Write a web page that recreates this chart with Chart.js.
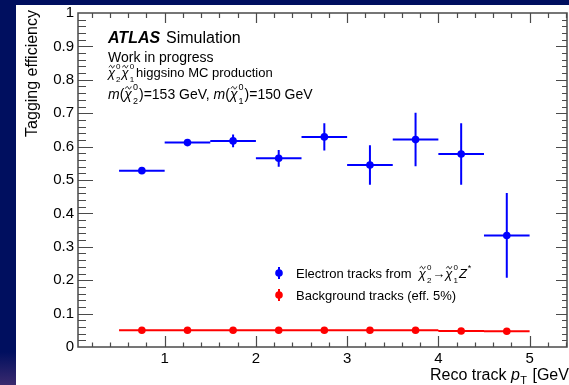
<!DOCTYPE html>
<html>
<head>
<meta charset="utf-8">
<script src="https://cdn.jsdelivr.net/npm/chart.js@4.4.0/dist/chart.umd.min.js"></script>
<style>
  html, body { margin: 0; padding: 0; background: #000f5f; overflow: hidden; }
  #wrap { position: absolute; left: 0; top: 0; width: 571px; height: 385px; }
</style>
</head>
<body>
<div id="wrap"><canvas id="effChart" width="571" height="385"></canvas></div>
<script>
// Bins of reco track pT [GeV]
const binLow = [0.5, 1.0, 1.5, 2.0, 2.5, 3.0, 3.5, 4.0, 4.5];
const binHigh = [1.0, 1.5, 2.0, 2.5, 3.0, 3.5, 4.0, 4.5, 5.0];
const binCenter = [0.75, 1.25, 1.75, 2.25, 2.75, 3.25, 3.75, 4.25, 4.75];

// Electron tracks from chi2 -> chi1 Z*
const electronEff = [0.528, 0.612, 0.617, 0.565, 0.629, 0.545, 0.621, 0.578, 0.334];
const electronErr = [0.005, 0.008, 0.019, 0.025, 0.041, 0.059, 0.080, 0.092, 0.127];

// Background tracks
const bkgEff = [0.050, 0.050, 0.050, 0.050, 0.050, 0.050, 0.050, 0.048, 0.047];
const bkgErr = [0.001, 0.001, 0.001, 0.001, 0.001, 0.001, 0.001, 0.001, 0.001];

const xTicks = [1, 2, 3, 4, 5];
const xTickLabels = ['1', '2', '3', '4', '5'];
const yTicks = [0, 0.1, 0.2, 0.3, 0.4, 0.5, 0.6, 0.7, 0.8, 0.9, 1];
const yTickLabels = ['0', '0.1', '0.2', '0.3', '0.4', '0.5', '0.6', '0.7', '0.8', '0.9', '1'];

const FONT = '"Liberation Sans", Arial, Helvetica, sans-serif';
const BLUE = '#0000ff';
const RED = '#ff0000';

// chi-tilde with stacked super/subscript, returns new x
function drawChi(ctx, x, y, size, sup, sub) {
    ctx.font = `italic ${size}px ${FONT}`;
    const w = ctx.measureText('χ').width;
    ctx.fillText('χ', x, y);
    // tilde
    const tx = x + w * 0.15, ty = y - size * 0.82, tw = w * 0.75;
    ctx.save();
    ctx.lineWidth = 0.9;
    ctx.strokeStyle = ctx.fillStyle;
    ctx.beginPath();
    ctx.moveTo(tx, ty + 1);
    ctx.bezierCurveTo(tx + tw * 0.25, ty - 2, tx + tw * 0.45, ty - 1, tx + tw * 0.5, ty + 0.5);
    ctx.bezierCurveTo(tx + tw * 0.6, ty + 2, tx + tw * 0.8, ty + 2, tx + tw, ty - 1);
    ctx.stroke();
    ctx.restore();
    ctx.font = `${Math.round(size * 0.65)}px ${FONT}`;
    const sw = Math.max(ctx.measureText(sup).width, ctx.measureText(sub).width);
    ctx.fillText(sup, x + w + 1, y - size * 0.62);
    ctx.fillText(sub, x + w + 1, y + size * 0.38);
    return x + w + sw + 2;
}

function drawText(ctx, x, y, text, font) {
    ctx.font = font;
    ctx.fillText(text, x, y);
    return x + ctx.measureText(text).width;
}

const decorPlugin = {
    id: 'decor',
    beforeDraw(chart) {
        const ctx = chart.ctx;
        ctx.save();
        ctx.fillStyle = '#ffffff';
        ctx.fillRect(16, 5, chart.width - 16, chart.height - 5);
        ctx.restore();
    },
    beforeDatasetsDraw(chart) {
        const ctx = chart.ctx;
        const xs = chart.scales.x, ys = chart.scales.y;
        ctx.save();
        ctx.lineWidth = 2;
        const bars = (eff, err, color) => {
            ctx.strokeStyle = color;
            ctx.beginPath();
            for (let i = 0; i < eff.length; i++) {
                const yp = ys.getPixelForValue(eff[i]);
                ctx.moveTo(xs.getPixelForValue(binLow[i]), yp);
                ctx.lineTo(xs.getPixelForValue(binHigh[i]), yp);
                const xp = xs.getPixelForValue(binCenter[i]);
                ctx.moveTo(xp, ys.getPixelForValue(eff[i] + err[i]));
                ctx.lineTo(xp, ys.getPixelForValue(eff[i] - err[i]));
            }
            ctx.stroke();
        };
        bars(electronEff, electronErr, BLUE);
        bars(bkgEff, bkgErr, RED);
        ctx.restore();
    },
    afterDraw(chart) {
        const ctx = chart.ctx;
        const a = chart.chartArea;
        const xs = chart.scales.x, ys = chart.scales.y;
        ctx.save();

        // frame
        ctx.strokeStyle = '#4a4a4a';
        ctx.lineWidth = 1.5;
        ctx.strokeRect(a.left, a.top, a.right - a.left, a.bottom - a.top);

        // inward ticks
        ctx.lineWidth = 1.2;
        ctx.beginPath();
        for (let k = 1; k * 0.2 < xs.max; k++) {
            const v = k * 0.2;
            if (v < xs.min) continue;
            const major = k % 5 === 0;
            const px = Math.round(xs.getPixelForValue(v)) + 0.5;
            ctx.moveTo(px, a.bottom);
            ctx.lineTo(px, a.bottom - (major ? 11 : 4.5));
            ctx.moveTo(px, a.top);
            ctx.lineTo(px, a.top + (major ? 10 : 5));
        }
        for (let k = 1; k < 50; k++) {
            const v = k * 0.02;
            const major = k % 5 === 0;
            const py = Math.round(ys.getPixelForValue(v)) + 0.5;
            ctx.moveTo(a.left, py);
            ctx.lineTo(a.left + (major ? 15 : 8), py);
            ctx.moveTo(a.right, py);
            ctx.lineTo(a.right - (major ? 11 : 5), py);
        }
        ctx.stroke();

        ctx.fillStyle = '#000';
        ctx.textAlign = 'left';
        ctx.textBaseline = 'alphabetic';

        // axis titles
        ctx.save();
        ctx.translate(37, 10);
        ctx.rotate(-Math.PI / 2);
        ctx.textAlign = 'right';
        ctx.font = `16px ${FONT}`;
        ctx.fillText('Tagging efficiency', 0, 0);
        ctx.restore();

        let x = drawText(ctx, 430, 380, 'Reco track ', `16px ${FONT}`);
        x = drawText(ctx, x, 380, 'p', `italic 16px ${FONT}`);
        x = drawText(ctx, x + 0.5, 384, 'T', `11px ${FONT}`);
        drawText(ctx, x + 1, 380, ' [GeV]', `16px ${FONT}`);

        // labels
        drawText(ctx, 108, 43, 'ATLAS', `bold italic 16px ${FONT}`);
        drawText(ctx, 166, 43, 'Simulation', `16px ${FONT}`);
        drawText(ctx, 108, 62, 'Work in progress', `14px ${FONT}`);

        x = drawChi(ctx, 108, 77, 13, '0', '2');
        x = drawChi(ctx, x, 77, 13, '0', '1');
        drawText(ctx, x + 1, 77, 'higgsino MC production', `13px ${FONT}`);

        x = drawText(ctx, 108, 99, 'm', `italic 14px ${FONT}`);
        x = drawText(ctx, x, 99, '(', `14px ${FONT}`);
        x = drawChi(ctx, x, 99, 14, '0', '2');
        x = drawText(ctx, x, 99, ')=153 GeV, ', `14px ${FONT}`);
        x = drawText(ctx, x, 99, 'm', `italic 14px ${FONT}`);
        x = drawText(ctx, x, 99, '(', `14px ${FONT}`);
        x = drawChi(ctx, x, 99, 14, '0', '1');
        drawText(ctx, x, 99, ')=150 GeV', `14px ${FONT}`);

        // legend
        const legendMark = (cx, cy, color) => {
            ctx.fillStyle = color;
            ctx.strokeStyle = color;
            ctx.lineWidth = 2;
            ctx.beginPath();
            ctx.moveTo(cx, cy - 6);
            ctx.lineTo(cx, cy + 6);
            ctx.stroke();
            ctx.beginPath();
            ctx.arc(cx, cy, 3.8, 0, Math.PI * 2);
            ctx.fill();
        };
        legendMark(279, 273, BLUE);
        legendMark(279, 295, RED);
        ctx.fillStyle = '#000';
        x = drawText(ctx, 296, 278, 'Electron tracks from  ', `13px ${FONT}`);
        x = drawChi(ctx, x, 278, 13, '0', '2');
        x = drawText(ctx, x, 278, '→', `13px ${FONT}`);
        x = drawChi(ctx, x, 278, 13, '0', '1');
        x = drawText(ctx, x, 278, 'Z', `italic 13px ${FONT}`);
        drawText(ctx, x + 1, 271, '*', `9px ${FONT}`);
        drawText(ctx, 296, 300, 'Background tracks (eff. 5%)', `13px ${FONT}`);

        // slide background strips
        ctx.fillStyle = '#000f5f';
        ctx.fillRect(0, 0, chart.width, 5);
        ctx.fillRect(0, 0, 16, chart.height);
        const g = ctx.createLinearGradient(0, 352, 0, 385);
        g.addColorStop(0, '#000f5f');
        g.addColorStop(1, '#3a2a6e');
        ctx.fillStyle = g;
        ctx.fillRect(0, 352, 16, 33);
        ctx.restore();
    }
};

new Chart(document.getElementById('effChart'), {
    type: 'scatter',
    data: {
        datasets: [
            {
                label: 'Electron tracks',
                data: binCenter.map((c, i) => ({ x: c, y: electronEff[i] })),
                backgroundColor: BLUE,
                borderWidth: 0,
                pointRadius: 3.8
            },
            {
                label: 'Background tracks (eff. 5%)',
                data: binCenter.map((c, i) => ({ x: c, y: bkgEff[i] })),
                backgroundColor: RED,
                borderWidth: 0,
                pointRadius: 3.8
            }
        ]
    },
    options: {
        responsive: false,
        devicePixelRatio: 1,
        animation: false,
        layout: { padding: { left: 0, top: 10, right: 1, bottom: 0 } },
        plugins: { legend: { display: false }, tooltip: { enabled: false } },
        scales: {
            x: {
                type: 'linear',
                min: 0.05,
                max: 5.41,
                grid: { display: false, drawTicks: false },
                border: { display: false },
                afterBuildTicks: s => { s.ticks = xTicks.map(v => ({ value: v })); },
                afterFit: s => { s.height = 38; },
                ticks: {
                    padding: 3,
                    color: '#000',
                    font: { family: FONT, size: 15 },
                    callback: (v, i) => xTickLabels[i]
                }
            },
            y: {
                type: 'linear',
                min: 0,
                max: 1,
                grid: { display: false, drawTicks: false },
                border: { display: false },
                afterBuildTicks: s => { s.ticks = yTicks.map(v => ({ value: v })); },
                afterFit: s => { s.width = 78; },
                ticks: {
                    padding: 4,
                    color: '#000',
                    font: { family: FONT, size: 15 },
                    callback: (v, i) => yTickLabels[i]
                }
            }
        }
    },
    plugins: [decorPlugin]
});
</script>
</body>
</html>
